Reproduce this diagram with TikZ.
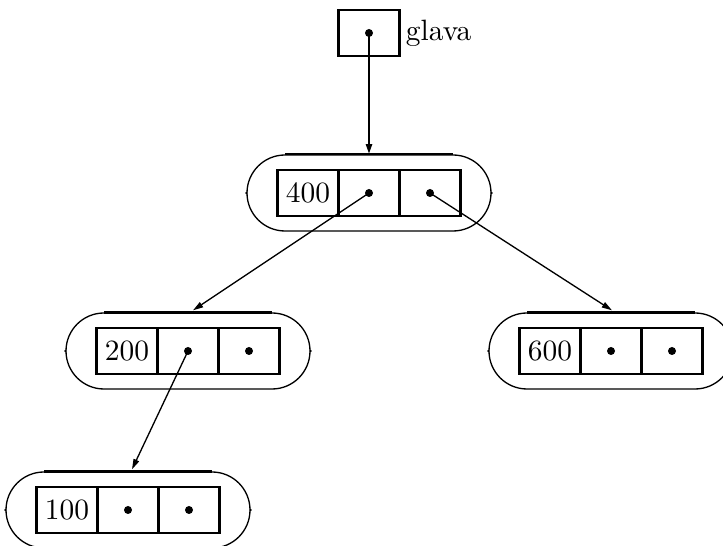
\documentclass[tikz,border=0pt]{standalone}
\usetikzlibrary{positioning,calc,shapes.misc,arrows.meta}
\newcommand{\pxu}{0.34pt}
\begin{document}
\begin{tikzpicture}[x=\pxu, y=-\pxu, every node/.style={font=\normalsize},
    cell/.style={draw, line width=1pt, minimum width=61*\pxu, minimum height=46*\pxu, inner sep=0pt},
    capsule/.style={draw, line width=0.45pt, rounded rectangle, minimum width=244*\pxu, minimum height=76*\pxu, inner sep=0pt},
    ptr/.style={circle, fill, inner sep=0pt, minimum size=8*\pxu},
    link/.style={-{Triangle[length=3.5pt,width=2pt]}, line width=0.45pt}]
    \useasboundingbox (0,0) rectangle (723,546);

    % Head pointer
    \node[cell] (glava) at (369,33) {};
    \node[ptr] (dglava) at (glava) {};
    \node[right=1.5pt of glava, inner sep=0pt] (glavatxt) {glava};

    % Root 400
    \node[capsule] (n400) at (369,193) {};
    \node[cell] (n400k) at (308,193) {400};
    \node[cell] (n400l) at (369,193) {};
    \node[cell] (n400r) at (430,193) {};
    \node[ptr] (d400l) at (n400l) {};
    \node[ptr] (d400r) at (n400r) {};

    % Left child 200
    \node[capsule] (n200) at (188,351) {};
    \node[cell] (n200k) at (127,351) {200};
    \node[cell] (n200l) at (188,351) {};
    \node[cell] (n200r) at (249,351) {};
    \node[ptr] (d200l) at (n200l) {};
    \node[ptr] (d200r) at (n200r) {};

    % Right child 600
    \node[capsule] (n600) at (611,351) {};
    \node[cell] (n600k) at (550,351) {600};
    \node[cell] (n600l) at (611,351) {};
    \node[cell] (n600r) at (672,351) {};
    \node[ptr] (d600l) at (n600l) {};
    \node[ptr] (d600r) at (n600r) {};

    % Leaf 100
    \node[capsule] (n100) at (128,510) {};
    \node[cell] (n100k) at (67,510) {100};
    \node[cell] (n100l) at (128,510) {};
    \node[cell] (n100r) at (189,510) {};
    \node[ptr] (d100l) at (n100l) {};
    \node[ptr] (d100r) at (n100r) {};

    % Top edges of the capsules
    \draw[line width=0.6pt] ($(n400.north)+(-84,0)$) -- ($(n400.north)+(84,0)$);
    \draw[line width=0.8pt] ($(n200.north)+(-84,0)$) -- ($(n200.north)+(84,0)$);
    \draw[line width=0.8pt] ($(n600.north)+(-84,0)$) -- ($(n600.north)+(84,0)$);
    \draw[line width=0.8pt] ($(n100.north)+(-84,0)$) -- ($(n100.north)+(84,0)$);

    % Small marks at the capsule ends
    \fill (n400.west) circle (1.3);
    \fill (n400.east) circle (1.3);
    \fill (n200.west) circle (1.3);
    \fill (n200.east) circle (1.3);
    \fill (n600.west) circle (1.3);
    \fill (n100.west) circle (1.3);
    \fill (n100.east) circle (1.3);

    % Pointers
    \draw[link, line width=1pt] (dglava.center) -- (n400.north);
    \draw[link] (d400l.center) -- ($(n200.north)+(5,-2)$);
    \draw[link] (d400r.center) -- ($(n600.north)+(1,-2)$);
    \draw[link] (d200l.center) -- ($(n100.north)+(4,-2)$);
\end{tikzpicture}
\end{document}
